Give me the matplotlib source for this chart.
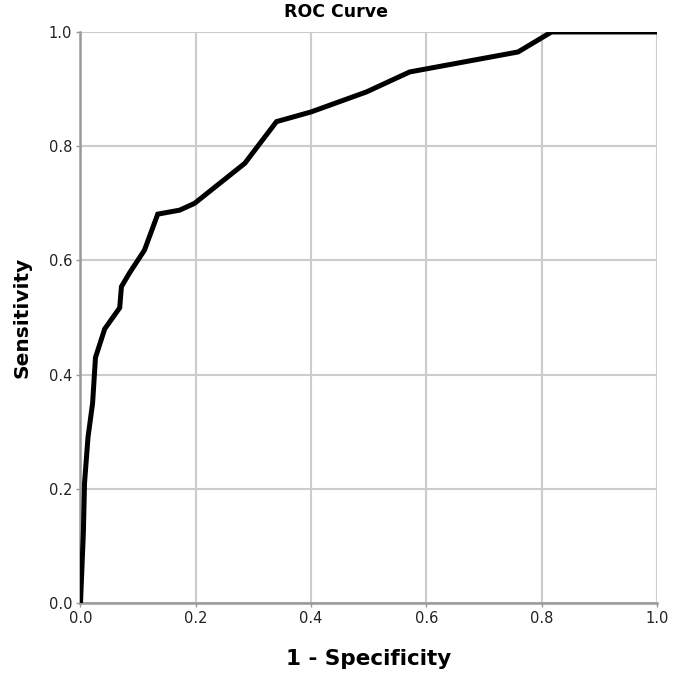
import matplotlib.pyplot as plt

# ROC curve points
fpr = [0.0, 0.005, 0.007, 0.013, 0.021, 0.026, 0.042, 0.068, 0.071, 0.085,
       0.111, 0.134, 0.172, 0.198, 0.285, 0.340, 0.400, 0.496, 0.571, 0.759,
       0.817, 1.0]
tpr = [0.0, 0.123, 0.21, 0.29, 0.35, 0.43, 0.48, 0.517, 0.554, 0.578,
       0.618, 0.681, 0.688, 0.700, 0.770, 0.843, 0.860, 0.895, 0.930, 0.965,
       1.0, 1.0]
ticks = [0.0, 0.2, 0.4, 0.6, 0.8, 1.0]
tick_labels = ["0.0", "0.2", "0.4", "0.6", "0.8", "1.0"]

fig = plt.figure(figsize=(6.73, 6.79), dpi=100)
ax = fig.add_axes([0.1196, 0.1119, 0.8566, 0.8410])

ax.plot(fpr, tpr, color="black", lw=3.6, solid_joinstyle="miter", zorder=3)

ax.set_xlim(0, 1)
ax.set_ylim(0, 1)
ax.set_xticks(ticks, tick_labels)
ax.set_yticks(ticks, tick_labels)
ax.grid(True, color="#cccccc", lw=1.5)
ax.set_axisbelow(True)

for side in ("top", "right"):
    ax.spines[side].set_visible(False)
for side in ("left", "bottom"):
    ax.spines[side].set_color("#999999")
    ax.spines[side].set_linewidth(1.8)

ax.tick_params(axis="both", labelsize=10.5, colors="#222222", length=3,
               width=1, color="#999999", pad=3)

ax.set_xlabel("1 - Specificity", fontsize=15.5, fontweight="bold", labelpad=16)
ax.set_ylabel("Sensitivity", fontsize=14.5, fontweight="bold", labelpad=12)
fig.text(0.5, 0.982, "ROC Curve", ha="center", va="center",
         fontsize=12.5, fontweight="bold")

fig.savefig("out.png", dpi=100)
